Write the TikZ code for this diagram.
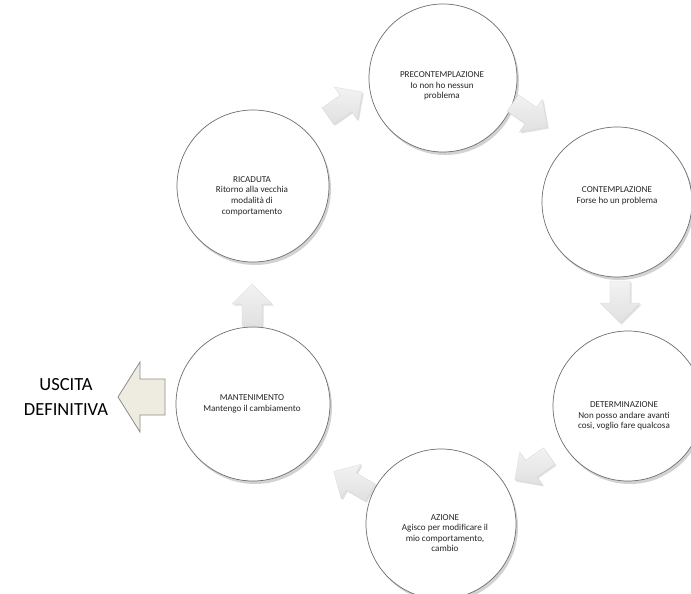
\documentclass[tikz,border=0pt]{standalone}
\usepackage{fontspec}
\setmainfont{Carlito}
\usetikzlibrary{shadows}
\definecolor{exitfill}{HTML}{EEECE1}
\definecolor{exitline}{HTML}{8C8C8C}
\definecolor{circline}{HTML}{6E6E6E}
\tikzset{
  circ/.style={circle, draw=circline, line width=0.7pt, fill=white,
    minimum size=#1, inner sep=0pt,
    drop shadow={opacity=0.35, shadow xshift=2pt, shadow yshift=-3pt}},
  ctext/.style={align=center, font=\fontsize{9.1}{10.6}\selectfont, text=black!85, inner sep=0pt},
  barrow/.style={top color=gray!10, bottom color=gray!24, draw=gray!30, line width=0.3pt,
    drop shadow={opacity=0.25, shadow xshift=1.5pt, shadow yshift=-1.5pt}},
  pics/blockarr/.style={code={
    \path[barrow] (-21,-10) -- (1,-10) -- (1,-20) -- (21,0) -- (1,20) -- (1,10) -- (-21,10) -- cycle;}},
  exittext/.style={align=center, font=\fontsize{18.5}{25}\selectfont, inner sep=0pt}
}
\begin{document}
\begin{tikzpicture}[x=1pt,y=-1pt]
\useasboundingbox[fill=white] (0,0) rectangle (691,594);

% circles
\node[circ=148pt] (pre) at (443,78) {};
\node[circ=150pt] (con) at (617,202) {};
\node[circ=150pt] (det) at (628,406) {};
\node[circ=150pt] (azi) at (441,524) {};
\node[circ=154pt] (man) at (253,404) {};
\node[circ=152pt] (ric) at (253,186) {};

% texts
\node[ctext] (pre-t) at (442,86) {PRECONTEMPLAZIONE\\Io non ho nessun\\problema};
\node[ctext] (con-t) at (617,196) {CONTEMPLAZIONE\\Forse ho un problema};
\node[ctext] (det-t) at (624,416) {DETERMINAZIONE\\Non posso andare avanti\\cosi, voglio fare qualcosa};
\node[ctext] (azi-t) at (445,533) {AZIONE\\Agisco per modificare il\\mio comportamento,\\cambio};
\node[ctext] (man-t) at (252,404) {MANTENIMENTO\\Mantengo il cambiamento};
\node[ctext] (ric-t) at (252,196) {RICADUTA\\Ritorno alla vecchia\\modalità di\\comportamento};

% cycle arrows
\pic[rotate=35] at (345,104) {blockarr};
\pic[rotate=-35] at (530,115) {blockarr};
\pic[rotate=-90] at (620,302) {blockarr};
\pic[rotate=-145] at (532,468) {blockarr};
\pic[rotate=150] at (352,482) {blockarr};
\pic[rotate=90] at (252,305) {blockarr};

% exit arrow
\coordinate (ex) at (141,397);
\path[fill=exitfill, draw=exitline, line width=0.8pt]
  ([xshift=-23pt]ex) -- ([xshift=-1pt,yshift=35pt]ex) -- ([xshift=-1pt,yshift=18pt]ex)
  -- ([xshift=24pt,yshift=18pt]ex) -- ([xshift=24pt,yshift=-18pt]ex)
  -- ([xshift=-1pt,yshift=-18pt]ex) -- ([xshift=-1pt,yshift=-35pt]ex) -- cycle;
\node[exittext] (exit-t) at (66,397) {USCITA\\DEFINITIVA};
\end{tikzpicture}
\end{document}
